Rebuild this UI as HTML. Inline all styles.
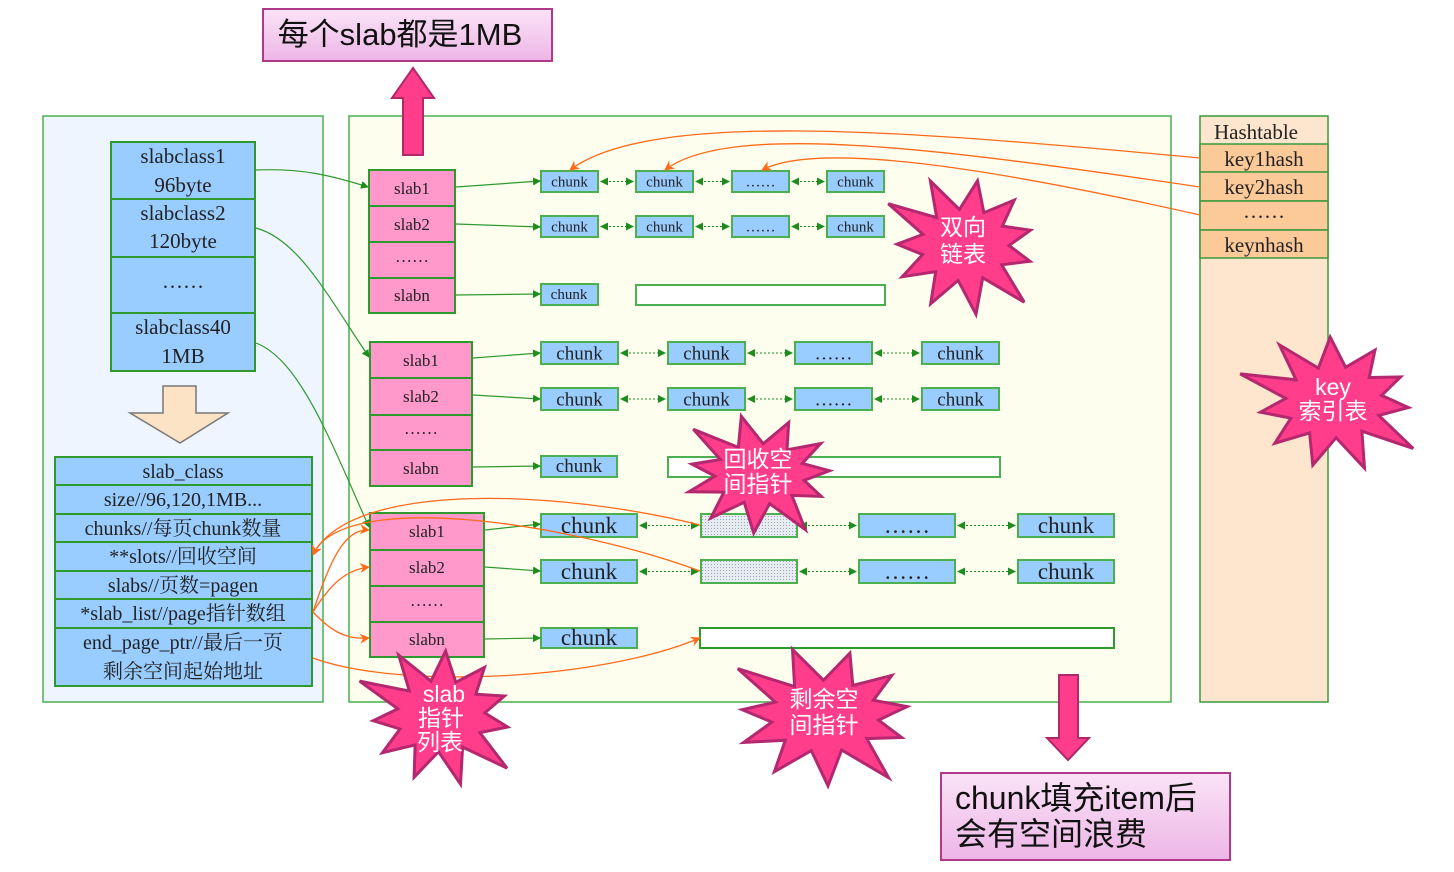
<!DOCTYPE html>
<html><head><meta charset="utf-8"><style>
html,body{margin:0;padding:0;background:#fff}
svg{display:block}
.s{font-family:"Liberation Serif","Noto Serif CJK SC",serif;fill:#222}
.w{font-family:"Liberation Sans","Noto Sans CJK SC",sans-serif;fill:#fff}
</style></head><body>
<svg id="g" width="1454" height="872" viewBox="0 0 1454 872" xmlns="http://www.w3.org/2000/svg">
<defs>
<marker id="ga" markerWidth="8" markerHeight="8" refX="7" refY="4" orient="auto" markerUnits="userSpaceOnUse"><path d="M0,0 L8,4 L0,8z" fill="#1e8c1e"/></marker>
<marker id="gs" markerWidth="8" markerHeight="8" refX="1" refY="4" orient="auto" markerUnits="userSpaceOnUse"><path d="M8,0 L0,4 L8,8z" fill="#1e8c1e"/></marker>
<marker id="oa" markerWidth="10" markerHeight="10" refX="9" refY="5" orient="auto" markerUnits="userSpaceOnUse"><path d="M0,0 L10,5 L0,10 L3,5z" fill="#ff6a1a"/></marker>
<pattern id="dots" width="3" height="3" patternUnits="userSpaceOnUse"><rect width="3" height="3" fill="#e6ecf2"/><rect width="1" height="1" fill="#9aa6b2"/></pattern>
<linearGradient id="pk" x1="0" y1="0" x2="0" y2="1"><stop offset="0" stop-color="#fbe3f7"/><stop offset="1" stop-color="#ecb6e6"/></linearGradient>
</defs>

<rect x="43" y="116" width="280" height="586" fill="#eef5ff" stroke="#4caf50" stroke-width="1.5"/>
<rect x="349" y="116" width="822" height="586" fill="#fefeee" stroke="#4caf50" stroke-width="1.5"/>
<rect x="1200" y="116" width="128" height="586" fill="#fde6cd" stroke="#3a9a3a" stroke-width="1.5"/>
<g stroke="#3a9a3a" stroke-width="1.5" fill="#fcc998">
<rect x="1200" y="144" width="128" height="28"/><rect x="1200" y="172" width="128" height="29"/>
<rect x="1200" y="201" width="128" height="29"/><rect x="1200" y="230" width="128" height="28"/></g>
<g class="s" font-size="21" text-anchor="middle">
<text x="1256" y="139">Hashtable</text><text x="1264" y="166">key1hash</text><text x="1264" y="194">key2hash</text>
<text x="1264" y="218">……</text><text x="1264" y="252">keynhash</text></g>

<g stroke="#2e9a2e" stroke-width="2" fill="#99ccff">
<rect x="111" y="142" width="144" height="57"/><rect x="111" y="199" width="144" height="58"/>
<rect x="111" y="257" width="144" height="56"/><rect x="111" y="313" width="144" height="58"/></g>
<g class="s" font-size="21" text-anchor="middle">
<text x="183" y="163">slabclass1</text><text x="183" y="192">96byte</text>
<text x="183" y="220">slabclass2</text><text x="183" y="248">120byte</text>
<text x="183" y="288">……</text>
<text x="183" y="334">slabclass40</text><text x="183" y="363">1MB</text></g>
<path d="M163,386 H196 V413 H228 L180,443 L130,413 H163z" fill="#fde3c6" stroke="#777" stroke-width="1.5"/>

<g stroke="#2e9a2e" stroke-width="2" fill="#99ccff">
<rect x="55" y="457" width="257" height="28"/><rect x="55" y="485" width="257" height="29"/>
<rect x="55" y="514" width="257" height="28"/><rect x="55" y="542" width="257" height="29"/>
<rect x="55" y="571" width="257" height="28"/><rect x="55" y="599" width="257" height="29"/>
<rect x="55" y="628" width="257" height="58"/></g>
<g class="s" font-size="20" text-anchor="middle">
<text x="183" y="478">slab_class</text><text x="183" y="506">size//96,120,1MB...</text>
<text x="183" y="535">chunks//每页chunk数量</text><text x="183" y="563">**slots//回收空间</text>
<text x="183" y="592">slabs//页数=pagen</text><text x="183" y="620">*slab_list//page指针数组</text>
<text x="183" y="649">end_page_ptr//最后一页</text><text x="183" y="678">剩余空间起始地址</text></g>

<g stroke="#2e9a2e" stroke-width="2" fill="#ff99cc">
<rect x="369" y="170" width="86" height="36"/><rect x="369" y="206" width="86" height="36"/><rect x="369" y="242" width="86" height="36"/><rect x="369" y="278" width="86" height="35"/>
<rect x="370" y="342" width="102" height="36"/><rect x="370" y="378" width="102" height="37"/><rect x="370" y="415" width="102" height="35"/><rect x="370" y="450" width="102" height="36"/>
<rect x="370" y="513" width="114" height="37"/><rect x="370" y="550" width="114" height="36"/><rect x="370" y="586" width="114" height="36"/><rect x="370" y="622" width="114" height="35"/></g>
<g class="s" font-size="17" text-anchor="middle">
<text x="412" y="194">slab1</text><text x="412" y="230">slab2</text><text x="412" y="262">……</text><text x="412" y="301">slabn</text>
<text x="421" y="366">slab1</text><text x="421" y="402">slab2</text><text x="421" y="434">……</text><text x="421" y="474">slabn</text>
<text x="427" y="537">slab1</text><text x="427" y="573">slab2</text><text x="427" y="606">……</text><text x="427" y="645">slabn</text></g>

<g id="chunks"></g>

<g stroke="#2e9a2e" stroke-width="1.2" fill="none" marker-end="url(#ga)">
<path d="M256,170 C300,168 330,175 368,187"/>
<path d="M256,228 C300,240 330,300 369,357"/>
<path d="M256,343 C300,360 330,440 369,527"/>
<path d="M456,187 L540,181"/><path d="M456,224 L540,227"/><path d="M456,295 L540,294"/>
<path d="M473,358 L540,353"/><path d="M473,395 L540,399"/><path d="M473,467 L540,466"/>
<path d="M485,530 L540,524"/><path d="M485,567 L540,571"/><path d="M485,639 L540,638"/>
</g>

<g stroke="#ff6a1a" stroke-width="1.3" fill="none" marker-end="url(#oa)">
<path d="M1200,158 C900,130 650,110 570,170"/>
<path d="M1200,187 C950,150 730,120 665,170"/>
<path d="M1200,215 C1000,170 820,140 762,170"/>
<path d="M313,612 C330,560 345,528 369,530"/>
<path d="M313,612 C330,585 345,570 369,567"/>
<path d="M313,612 C330,630 345,640 369,638"/>
<path d="M700,525 C560,490 350,480 313,555"/>
<path d="M700,571 C560,520 340,490 313,555"/>
<path d="M313,658 C400,690 600,680 700,638"/>
</g>

<rect x="263" y="9" width="289" height="52" fill="url(#pk)" stroke="#b03a8a" stroke-width="2"/>
<text x="400" y="45" class="w" font-size="31" text-anchor="middle" style="fill:#111">每个slab都是1MB</text>
<path d="M403,155 V98 H392 L413,68 L434,98 H423 V155z" fill="#ff3d8b" stroke="#b0286a" stroke-width="2"/>
<path d="M1059,675 H1078 V738 H1089 L1068,760 L1047,738 H1059z" fill="#ff3d8b" stroke="#b0286a" stroke-width="2"/>
<rect x="941" y="773" width="289" height="87" fill="url(#pk)" stroke="#b03a8a" stroke-width="2"/>
<text x="955" y="809" class="w" font-size="32" style="fill:#111">chunk填充item后</text>
<text x="955" y="845" class="w" font-size="32" style="fill:#111">会有空间浪费</text>

<g id="stars"></g>
<g class="w" font-size="23" text-anchor="middle">
<text x="963" y="235">双向</text><text x="963" y="262">链表</text>
<text x="1333" y="395">key</text><text x="1333" y="419">索引表</text>
<text x="758" y="467">回收空</text><text x="758" y="492">间指针</text>
<text x="444" y="702">slab</text><text x="441" y="726">指针</text><text x="440" y="750">列表</text>
<text x="824" y="707">剩余空</text><text x="824" y="733">间指针</text></g>
</svg>
<script>
var NS="http://www.w3.org/2000/svg",C=document.getElementById('chunks');
function el(t,a,p){var e=document.createElementNS(NS,t);for(var k in a)e.setAttribute(k,a[k]);if(p)p.appendChild(e);return e;}
function row(xs,w,y,h,fs,labels,grey){
 for(var i=0;i<xs.length;i++){
  el('rect',{x:xs[i],y:y,width:w,height:h,fill:(grey&&i==1)?'url(#dots)':'#99ccff',stroke:'#4caf50','stroke-width':2},C);
  if(!(grey&&i==1)){var t=el('text',{x:xs[i]+w/2,y:y+h/2+fs*0.33,'font-size':fs,'text-anchor':'middle','class':'s'},C);t.textContent=labels[i];}
  if(i<xs.length-1) el('line',{x1:xs[i]+w+3,y1:y+h/2,x2:xs[i+1]-3,y2:y+h/2,stroke:'#1e8c1e','stroke-width':1,'stroke-dasharray':'2,2','marker-end':'url(#ga)','marker-start':'url(#gs)'},C);
 }}
var L=['chunk','chunk','……','chunk'];
row([541,636,732,827],57,171,21,15,L);row([541,636,732,827],57,216,21,15,L);
el('rect',{x:541,y:284,width:57,height:21,fill:'#99ccff',stroke:'#4caf50','stroke-width':2},C);
var t=el('text',{x:569,y:299,'font-size':15,'text-anchor':'middle','class':'s'},C);t.textContent='chunk';
el('rect',{x:636,y:285,width:249,height:20,fill:'#fff',stroke:'#4caf50','stroke-width':2},C);
row([541,668,795,922],77,342,22,19,L);row([541,668,795,922],77,388,22,19,L);
el('rect',{x:541,y:456,width:76,height:21,fill:'#99ccff',stroke:'#4caf50','stroke-width':2},C);
t=el('text',{x:579,y:472,'font-size':19,'text-anchor':'middle','class':'s'},C);t.textContent='chunk';
el('rect',{x:668,y:457,width:332,height:20,fill:'#fff',stroke:'#4caf50','stroke-width':2},C);
row([541,701,859,1018],96,514,23,23,L,true);row([541,701,859,1018],96,560,23,23,L,true);
el('rect',{x:541,y:628,width:96,height:20,fill:'#99ccff',stroke:'#4caf50','stroke-width':2},C);
t=el('text',{x:589,y:645,'font-size':23,'text-anchor':'middle','class':'s'},C);t.textContent='chunk';
el('rect',{x:700,y:628,width:414,height:20,fill:'#fff',stroke:'#2e9a2e','stroke-width':2},C);
var S=document.getElementById('stars');
function star(cx,cy,RX,RY,k,n,rot){var p=[];for(var i=0;i<2*n;i++){var a=rot+Math.PI*i/n,f=(i%2)?k:(0.85+0.3*((i*7)%5)/4);p.push((cx+RX*f*Math.cos(a)).toFixed(1)+','+(cy+RY*f*Math.sin(a)).toFixed(1));}
 el('polygon',{points:p.join(' '),fill:'#ff3d8b',stroke:'#b3286e','stroke-width':3,'stroke-linejoin':'miter'},S);}
star(965,245,80,65,0.55,11,0.3);star(1334,402,88,65,0.55,11,0.1);star(760,474,82,55,0.55,11,0.5);star(441,716,80,65,0.55,11,0.2);star(825,716,98,65,0.55,11,0.4);
</script>
</body></html>
